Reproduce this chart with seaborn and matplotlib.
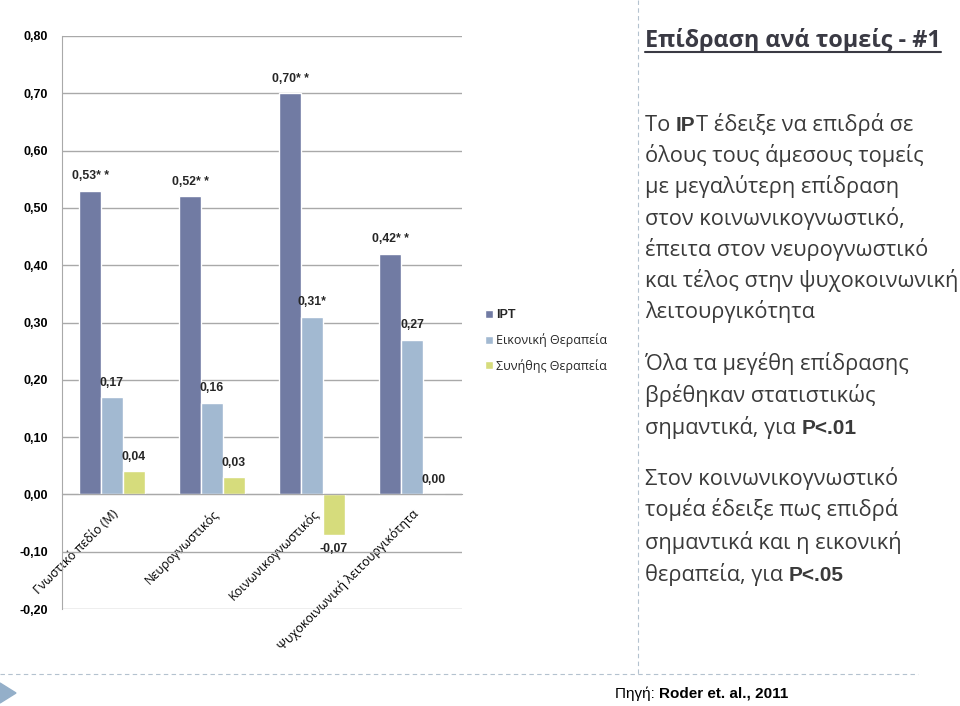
import numpy as np
import pandas as pd
import matplotlib.pyplot as plt
import seaborn as sns
from matplotlib.lines import Line2D
from matplotlib.patches import Polygon

# Δεδομένα
domains = ['Γνωστικό πεδίο (M)', 'Νευρογνωστικός', 'Κοινωνικογνωστικός',
           'Ψυχοκοινωνική λειτουργικότητα']
groups = ['IPT', 'Εικονική Θεραπεία', 'Συνήθης Θεραπεία']
ipt = [0.53, 0.52, 0.70, 0.42]
eikoniki = [0.17, 0.16, 0.31, 0.27]
synithis = [0.04, 0.03, -0.07, 0.00]
ipt_sig = ['* *', '* *', '* *', '* *']
eik_sig = ['', '', '*', '']
syn_sig = ['', '', '', '']
y_ticks = [-0.2, -0.1, 0.0, 0.1, 0.2, 0.3, 0.4, 0.5, 0.6, 0.7, 0.8]
colors = ['#717ba3', '#a2b9d1', '#d6dc7c']

df = pd.DataFrame({
    'domain': domains * 3,
    'group': [g for g in groups for _ in domains],
    'value': ipt + eikoniki + synithis,
})

W, H = 960, 706
sns.set_style('white')
plt.rcParams['font.family'] = ['Open Sans', 'DejaVu Sans']

fig = plt.figure(figsize=(W / 100, H / 100), dpi=100)
ax = fig.add_axes([62 / W, 1 - 609 / H, 400 / W, 573 / H])

sns.barplot(data=df, x='domain', y='value', hue='group', palette=colors,
            width=0.66, errorbar=None, saturation=1, ax=ax)

ax.set_ylim(-0.2, 0.8)
ax.set_xlim(-0.5, 3.5)
ax.set_xlabel('')
ax.set_ylabel('')

def fmt(v):
    return f'{v:.2f}'.replace('.', ',')

ax.set_yticks(y_ticks)
ax.set_yticklabels([fmt(v) for v in y_ticks], fontsize=9, fontweight='bold',
                   family='Liberation Sans', color='black')
ax.yaxis.grid(True, color='#a9a9a9', lw=1)
ax.set_axisbelow(True)

for s in ['top', 'right']:
    ax.spines[s].set_visible(False)
ax.spines['left'].set_color('#a9a9a9')
ax.spines['bottom'].set_color('#a9a9a9')
ax.spines['bottom'].set_position(('data', 0))

ax.set_xticks(range(len(domains)))
ax.set_xticklabels(domains, rotation=45, ha='right', va='top',
                   rotation_mode='anchor', fontsize=9, color='black')
ax.set_xticks(np.arange(-0.5, len(domains), 1), minor=True)
ax.tick_params(axis='x', which='major', length=0, pad=9)
ax.tick_params(axis='x', which='minor', length=5, color='#a9a9a9', direction='out')
ax.tick_params(axis='y', length=5, color='#a9a9a9', pad=5)

# Ετικέτες τιμών
for cont, vals, sig in zip(ax.containers, [ipt, eikoniki, synithis],
                           [ipt_sig, eik_sig, syn_sig]):
    ax.bar_label(cont, labels=[fmt(v) + s for v, s in zip(vals, sig)],
                 padding=6, fontsize=8.8, fontweight='bold',
                 family='Liberation Sans')

# Υπόμνημα
handles, labels = ax.get_legend_handles_labels()
ax.legend_.remove()
leg = fig.legend(handles, labels, loc='upper left',
                 bbox_to_anchor=(474 / W, 1 - 298 / H), frameon=False,
                 fontsize=9, handlelength=0.6, handleheight=0.6,
                 handletextpad=0.3, labelspacing=0.95)
leg.get_texts()[0].set_fontweight('bold')
leg.get_texts()[0].set_family('Liberation Sans')

# Διακοσμητικά
fig.add_artist(Line2D([638 / W, 638 / W], [1, 1 - 674 / H], transform=fig.transFigure,
                      color='#b4c2cf', lw=0.8, ls=(0, (4, 3))))
fig.add_artist(Line2D([0, 918 / W], [1 - 674 / H, 1 - 674 / H], transform=fig.transFigure,
                      color='#b4c2cf', lw=0.8, ls=(0, (4, 3))))
fig.add_artist(Polygon([[0, 1 - 683 / H], [0, 1 - 703 / H], [16 / W, 1 - 693 / H]],
                       closed=True, transform=fig.transFigure, color='#94afc9'))

renderer = fig.canvas.get_renderer()

def width_of(s, kw):
    t1 = fig.text(0, 0, s + '|', **kw)
    t2 = fig.text(0, 0, '|', **kw)
    w = t1.get_window_extent(renderer).width - t2.get_window_extent(renderer).width
    t1.remove()
    t2.remove()
    return w

def put_runs(x, y, runs):
    for s, kw in runs:
        fig.text(x / W, 1 - y / H, s, va='baseline', ha='left', **kw)
        x += width_of(s, kw)
    return x

txt_col = '#3a3a3a'
reg = dict(fontsize=15.7, color=txt_col, family='Open Sans')
bold_a = dict(fontsize=15, color=txt_col, family='Liberation Sans', fontweight='bold')
title_kw = dict(fontsize=16.8, color='#3a3a44', family='Open Sans', fontweight='bold')

# Τίτλος με υπογράμμιση
x_end = put_runs(645, 47, [('Επίδραση ανά τομείς - #1', title_kw)])
fig.add_artist(Line2D([645 / W, x_end / W], [1 - 52 / H, 1 - 52 / H],
                      transform=fig.transFigure, color='#3a3a44', lw=1.5))

para1 = ['όλους τους άμεσους τομείς', 'με μεγαλύτερη επίδραση',
         'στον κοινωνικογνωστικό,', 'έπειτα στον νευρογνωστικό',
         'και τέλος στην ψυχοκοινωνική', 'λειτουργικότητα']
put_runs(645, 131, [('Το ', reg), ('IP', bold_a), ('T έδειξε να επιδρά σε', reg)])
for i, line in enumerate(para1):
    put_runs(645, 131 + 31.2 * (i + 1), [(line, reg)])

put_runs(645, 370, [('Όλα τα μεγέθη επίδρασης', reg)])
put_runs(645, 402, [('βρέθηκαν στατιστικώς', reg)])
put_runs(645, 434, [('σημαντικά, για ', reg), ('P<.01', bold_a)])

put_runs(645, 485, [('Στον κοινωνικογνωστικό', reg)])
put_runs(645, 516, [('τομέα έδειξε πως επιδρά', reg)])
put_runs(645, 549, [('σημαντικά και η εικονική', reg)])
put_runs(645, 581, [('θεραπεία, για ', reg), ('P<.05', bold_a)])

# Πηγή
src = dict(fontsize=11, color='black', family='Liberation Sans')
put_runs(615, 698, [('Πηγή: ', src), ('Roder et. al., 2011', dict(src, fontweight='bold'))])

fig.savefig('out.png', dpi=100, facecolor='white')
